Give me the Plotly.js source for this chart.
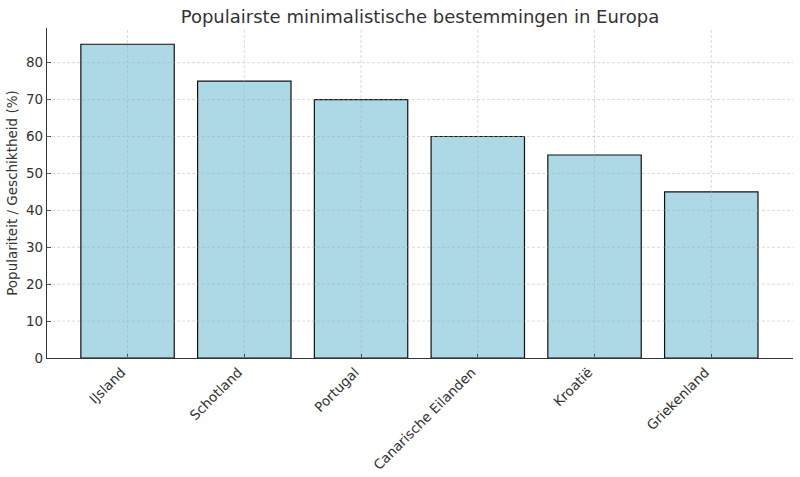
<!DOCTYPE html>
<html>
<head>
<meta charset="utf-8">
<script src="https://cdn.plot.ly/plotly-3.0.1.min.js"></script>
<style>html,body{margin:0;padding:0;background:#fff}#chart{width:800px;height:477px}</style>
</head>
<body>
<div id="chart"></div>
<script>
var categories = ["IJsland", "Schotland", "Portugal", "Canarische Eilanden", "Kroatië", "Griekenland"];
var values = [85, 75, 70, 60, 55, 45];
var yTicks = [0, 10, 20, 30, 40, 50, 60, 70, 80];

var trace = {
  type: "bar",
  x: categories,
  y: values,
  width: 0.8,
  marker: {color: "#add8e6", line: {color: "#111111", width: 1.2}},
  hoverinfo: "x+y"
};

var gridStyle = {color: "rgba(170,170,170,0.55)", width: 0.8, dash: "3px,2px"};
var shapes = [];
yTicks.forEach(function (v) {
  if (v === 0) return;
  shapes.push({type: "line", layer: "above", xref: "x domain", yref: "y", x0: 0, x1: 1, y0: v, y1: v, line: gridStyle});
});
categories.forEach(function (c, i) {
  shapes.push({type: "line", layer: "above", xref: "x", yref: "y domain", x0: i, x1: i, y0: 0, y1: 1, line: gridStyle});
});

var layout = {
  width: 800, height: 477,
  margin: {l: 47, r: 7, t: 28, b: 119},
  paper_bgcolor: "#ffffff", plot_bgcolor: "#ffffff",
  font: {family: "DejaVu Sans, sans-serif", color: "#333333", size: 13.5},
  title: {text: "Populairste minimalistische bestemmingen in Europa", x: 0.525, xanchor: "center", y: 0.965, yanchor: "middle", font: {size: 18, color: "#333333"}},
  xaxis: {
    type: "category", range: [-0.69, 5.7],
    tickangle: -45, ticks: "inside", ticklen: 4, tickcolor: "#333333",
    ticklabelshift: -6,
    showgrid: false,
    showline: true, linecolor: "#333333", linewidth: 1.2, zeroline: false,
    layer: "above traces",
    tickfont: {size: 13.5, color: "#333333"}
  },
  yaxis: {
    range: [0, 89.4], tickvals: yTicks, ticktext: yTicks.map(String),
    ticks: "inside", ticklen: 4, tickcolor: "#333333",
    showgrid: false,
    showline: true, linecolor: "#333333", linewidth: 1.2, zeroline: false,
    layer: "above traces",
    tickfont: {size: 13.5, color: "#333333"},
    title: {text: "Populariteit / Geschiktheid (%)", font: {size: 13.5, color: "#333333"}, standoff: 5}
  },
  shapes: shapes,
  showlegend: false
};

Plotly.newPlot("chart", [trace], layout, {displayModeBar: false, staticPlot: true});
</script>
</body>
</html>
